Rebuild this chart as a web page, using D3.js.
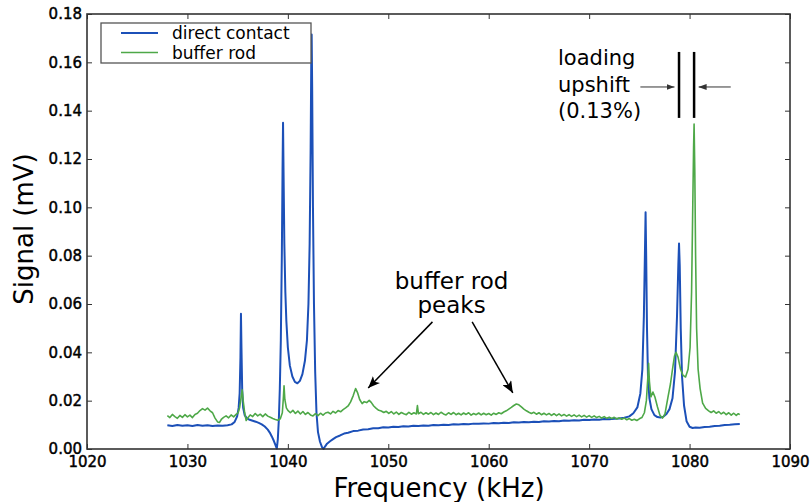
<!DOCTYPE html>
<html>
<head>
<meta charset="utf-8">
<script src="https://cdn.jsdelivr.net/npm/d3@7"></script>
<style>
  body { margin: 0; background: #fff; }
  text { font-family: "DejaVu Sans", sans-serif; fill: #000; }
</style>
</head>
<body>
<div id="chart"></div>
<script>

// tick values
const freqTicks = [1020, 1030, 1040, 1050, 1060, 1070, 1080, 1090];
const signalTicks = [0.00, 0.02, 0.04, 0.06, 0.08, 0.10, 0.12, 0.14, 0.16, 0.18];

// series names
const seriesNames = ["direct contact", "buffer rod"];

// direct contact trace [kHz, mV]
const directContact = [
  [1028.0, 0.0098], [1028.5, 0.0095], [1029.0, 0.0099], [1029.5, 0.0096], [1030.0, 0.0098],
  [1030.5, 0.0095], [1031.0, 0.0099], [1031.5, 0.0096], [1032.0, 0.0098], [1032.5, 0.0095],
  [1033.0, 0.0097], [1033.5, 0.0096], [1034.0, 0.0098], [1034.4, 0.0102], [1034.7, 0.0112],
  [1034.95, 0.0135], [1035.1, 0.0170], [1035.2, 0.0230], [1035.28, 0.0380], [1035.33, 0.0560],
  [1035.38, 0.0420], [1035.45, 0.0250], [1035.55, 0.0170], [1035.7, 0.0140], [1035.9, 0.0128],
  [1036.2, 0.0121], [1036.5, 0.0117], [1036.8, 0.0113], [1037.1, 0.0108], [1037.4, 0.0102],
  [1037.7, 0.0093], [1038.0, 0.0080], [1038.2, 0.0068], [1038.4, 0.0052], [1038.6, 0.0034],
  [1038.75, 0.0018], [1038.9, 0.0002], [1039.0, 0.0040], [1039.1, 0.0120], [1039.2, 0.0250],
  [1039.3, 0.0450], [1039.4, 0.0800], [1039.47, 0.1150], [1039.52, 0.1350], [1039.57, 0.1150],
  [1039.65, 0.0850], [1039.75, 0.0650], [1039.85, 0.0530], [1040.0, 0.0420], [1040.2, 0.0345],
  [1040.45, 0.0300], [1040.7, 0.0278], [1040.95, 0.0272], [1041.2, 0.0282], [1041.45, 0.0310],
  [1041.7, 0.0365], [1041.9, 0.0450], [1042.05, 0.0600], [1042.17, 0.0850], [1042.27, 0.1250],
  [1042.33, 0.1600], [1042.37, 0.1715], [1042.42, 0.1500], [1042.5, 0.1000], [1042.6, 0.0600],
  [1042.72, 0.0320], [1042.85, 0.0150], [1043.0, 0.0070], [1043.2, 0.0030], [1043.4, 0.0008],
  [1043.55, 0.0000], [1043.7, 0.0010], [1043.9, 0.0022], [1044.2, 0.0032], [1044.5, 0.0041],
  [1044.8, 0.0049], [1045.2, 0.0056], [1045.6, 0.0064], [1046.0, 0.0067], [1046.5, 0.0074],
  [1047.0, 0.0076], [1047.5, 0.0081], [1048.0, 0.0082], [1048.5, 0.0086], [1049.0, 0.0086],
  [1049.5, 0.0090], [1050.0, 0.0089], [1050.5, 0.0092], [1051.0, 0.0091], [1051.5, 0.0094],
  [1052.0, 0.0093], [1052.5, 0.0096], [1053.0, 0.0095], [1053.5, 0.0097], [1054.0, 0.0096],
  [1054.5, 0.0099], [1055.0, 0.0098], [1055.5, 0.0100], [1056.0, 0.0099], [1056.5, 0.0102],
  [1057.0, 0.0101], [1057.5, 0.0103], [1058.0, 0.0102], [1058.5, 0.0105], [1059.0, 0.0104],
  [1059.5, 0.0106], [1060.0, 0.0105], [1060.5, 0.0108], [1061.0, 0.0107], [1061.5, 0.0109],
  [1062.0, 0.0108], [1062.5, 0.0111], [1063.0, 0.0110], [1063.5, 0.0112], [1064.0, 0.0111],
  [1064.5, 0.0113], [1065.0, 0.0112], [1065.5, 0.0115], [1066.0, 0.0114], [1066.5, 0.0116],
  [1067.0, 0.0115], [1067.5, 0.0118], [1068.0, 0.0117], [1068.5, 0.0119], [1069.0, 0.0118],
  [1069.5, 0.0121], [1070.0, 0.0120], [1070.5, 0.0122], [1071.0, 0.0121], [1071.5, 0.0124],
  [1072.0, 0.0123], [1072.5, 0.0125], [1073.0, 0.0126], [1073.5, 0.0129], [1074.0, 0.0135],
  [1074.4, 0.0148], [1074.8, 0.0172], [1075.1, 0.0230], [1075.3, 0.0330], [1075.45, 0.0550],
  [1075.55, 0.0800], [1075.62, 0.0980], [1075.68, 0.0800], [1075.76, 0.0500], [1075.86, 0.0300],
  [1076.0, 0.0210], [1076.2, 0.0165], [1076.5, 0.0140], [1076.8, 0.0132], [1077.1, 0.0130],
  [1077.4, 0.0134], [1077.7, 0.0145], [1078.0, 0.0165], [1078.3, 0.0210], [1078.55, 0.0320],
  [1078.75, 0.0550], [1078.88, 0.0760], [1078.95, 0.0850], [1079.02, 0.0760], [1079.12, 0.0500],
  [1079.25, 0.0300], [1079.45, 0.0180], [1079.7, 0.0115], [1080.0, 0.0092], [1080.3, 0.0087],
  [1080.6, 0.0089], [1081.0, 0.0088], [1081.5, 0.0091], [1082.0, 0.0092], [1082.5, 0.0095],
  [1083.0, 0.0096], [1083.5, 0.0099], [1084.0, 0.0100], [1084.5, 0.0102], [1085.0, 0.0103]
];

// buffer rod trace [kHz, mV]
const bufferRod = [
  [1028.0, 0.0138], [1028.25, 0.0130], [1028.5, 0.0143], [1028.75, 0.0134], [1029.0, 0.0127],
  [1029.25, 0.0139], [1029.5, 0.0131], [1029.75, 0.0142], [1030.0, 0.0133], [1030.25, 0.0140],
  [1030.5, 0.0130], [1030.75, 0.0143], [1031.0, 0.0148], [1031.25, 0.0159], [1031.5, 0.0167],
  [1031.75, 0.0161], [1032.0, 0.0169], [1032.25, 0.0158], [1032.5, 0.0150], [1032.75, 0.0128],
  [1033.0, 0.0112], [1033.2, 0.0110], [1033.4, 0.0124], [1033.6, 0.0131], [1033.85, 0.0137],
  [1034.1, 0.0129], [1034.35, 0.0141], [1034.6, 0.0133], [1034.85, 0.0143], [1035.05, 0.0150],
  [1035.2, 0.0172], [1035.35, 0.0215], [1035.45, 0.0245], [1035.55, 0.0200], [1035.7, 0.0150],
  [1035.85, 0.0118], [1036.0, 0.0128], [1036.25, 0.0141], [1036.5, 0.0134], [1036.75, 0.0147],
  [1037.0, 0.0137], [1037.25, 0.0144], [1037.5, 0.0134], [1037.75, 0.0145], [1038.0, 0.0136],
  [1038.25, 0.0131], [1038.5, 0.0126], [1038.75, 0.0122], [1039.0, 0.0119], [1039.25, 0.0125],
  [1039.45, 0.0150], [1039.55, 0.0210], [1039.62, 0.0262], [1039.7, 0.0205], [1039.85, 0.0170],
  [1040.0, 0.0160], [1040.25, 0.0150], [1040.5, 0.0160], [1040.75, 0.0147], [1041.0, 0.0157],
  [1041.25, 0.0145], [1041.5, 0.0155], [1041.75, 0.0143], [1042.0, 0.0151], [1042.25, 0.0141],
  [1042.5, 0.0137], [1042.75, 0.0146], [1043.0, 0.0138], [1043.25, 0.0148], [1043.5, 0.0140],
  [1043.75, 0.0149], [1044.0, 0.0152], [1044.25, 0.0145], [1044.5, 0.0156], [1044.75, 0.0149],
  [1045.0, 0.0159], [1045.25, 0.0154], [1045.5, 0.0163], [1045.75, 0.0170], [1046.0, 0.0178],
  [1046.25, 0.0195], [1046.5, 0.0220], [1046.75, 0.0250], [1046.95, 0.0232], [1047.15, 0.0205],
  [1047.4, 0.0188], [1047.6, 0.0196], [1047.85, 0.0192], [1048.1, 0.0201], [1048.3, 0.0193],
  [1048.55, 0.0178], [1048.8, 0.0168], [1049.05, 0.0160], [1049.3, 0.0157], [1049.55, 0.0151],
  [1049.8, 0.0156], [1050.05, 0.0147], [1050.3, 0.0155], [1050.55, 0.0145], [1050.8, 0.0153],
  [1051.05, 0.0143], [1051.3, 0.0151], [1051.55, 0.0146], [1051.8, 0.0142], [1052.05, 0.0152],
  [1052.3, 0.0144], [1052.55, 0.0150], [1052.8, 0.0145], [1052.9, 0.0180], [1053.0, 0.0146],
  [1053.25, 0.0152], [1053.5, 0.0143], [1053.75, 0.0150], [1054.0, 0.0144], [1054.25, 0.0151],
  [1054.5, 0.0142], [1054.75, 0.0149], [1055.0, 0.0143], [1055.25, 0.0152], [1055.5, 0.0145],
  [1055.75, 0.0141], [1056.0, 0.0150], [1056.25, 0.0143], [1056.5, 0.0151], [1056.75, 0.0142],
  [1057.0, 0.0148], [1057.25, 0.0141], [1057.5, 0.0149], [1057.75, 0.0143], [1058.0, 0.0150],
  [1058.25, 0.0140], [1058.5, 0.0147], [1058.75, 0.0142], [1059.0, 0.0149], [1059.25, 0.0141],
  [1059.5, 0.0148], [1059.75, 0.0142], [1060.0, 0.0147], [1060.25, 0.0140], [1060.5, 0.0148],
  [1060.75, 0.0143], [1061.0, 0.0150], [1061.25, 0.0146], [1061.5, 0.0153], [1061.75, 0.0158],
  [1062.0, 0.0165], [1062.25, 0.0172], [1062.5, 0.0180], [1062.75, 0.0186], [1063.0, 0.0183],
  [1063.25, 0.0174], [1063.5, 0.0165], [1063.75, 0.0158], [1064.0, 0.0152], [1064.25, 0.0147],
  [1064.5, 0.0152], [1064.75, 0.0144], [1065.0, 0.0150], [1065.25, 0.0142], [1065.5, 0.0148],
  [1065.75, 0.0141], [1066.0, 0.0147], [1066.25, 0.0139], [1066.5, 0.0146], [1066.75, 0.0138],
  [1067.0, 0.0145], [1067.25, 0.0137], [1067.5, 0.0143], [1067.75, 0.0136], [1068.0, 0.0142],
  [1068.25, 0.0135], [1068.5, 0.0141], [1068.75, 0.0134], [1069.0, 0.0140], [1069.25, 0.0133],
  [1069.5, 0.0139], [1069.75, 0.0132], [1070.0, 0.0138], [1070.25, 0.0131], [1070.5, 0.0137],
  [1070.75, 0.0130], [1071.0, 0.0135], [1071.25, 0.0128], [1071.5, 0.0134], [1071.75, 0.0127],
  [1072.0, 0.0132], [1072.25, 0.0126], [1072.5, 0.0131], [1072.75, 0.0124], [1073.0, 0.0129],
  [1073.25, 0.0123], [1073.5, 0.0128], [1073.75, 0.0121], [1074.0, 0.0126], [1074.25, 0.0119],
  [1074.5, 0.0123], [1074.75, 0.0118], [1075.0, 0.0125], [1075.25, 0.0130], [1075.5, 0.0150],
  [1075.7, 0.0200], [1075.85, 0.0300], [1075.92, 0.0355], [1076.0, 0.0280], [1076.15, 0.0215],
  [1076.35, 0.0236], [1076.55, 0.0215], [1076.8, 0.0175], [1077.05, 0.0140], [1077.3, 0.0128],
  [1077.55, 0.0145], [1077.85, 0.0215], [1078.1, 0.0270], [1078.3, 0.0330], [1078.5, 0.0385],
  [1078.65, 0.0400], [1078.85, 0.0380], [1079.1, 0.0330], [1079.35, 0.0305], [1079.6, 0.0298],
  [1079.85, 0.0330], [1080.05, 0.0420], [1080.2, 0.0650], [1080.3, 0.0950], [1080.4, 0.1250],
  [1080.45, 0.1345], [1080.52, 0.1150], [1080.6, 0.0800], [1080.7, 0.0500], [1080.85, 0.0330],
  [1081.05, 0.0250], [1081.3, 0.0190], [1081.6, 0.0168], [1081.9, 0.0158], [1082.15, 0.0151],
  [1082.4, 0.0158], [1082.65, 0.0148], [1082.9, 0.0155], [1083.15, 0.0145], [1083.4, 0.0152],
  [1083.65, 0.0142], [1083.9, 0.0150], [1084.15, 0.0140], [1084.4, 0.0148], [1084.65, 0.0139],
  [1084.85, 0.0146], [1085.0, 0.0142]
];

// annotation anchors in data units
const peakArrowTips = [[1048.0, 0.0252], [1062.4, 0.0232]];
const peakArrowTails = [[1054.4, 0.0526], [1058.35, 0.0526]];
const shiftPeaks = [1078.95, 1080.45];

const svgWidth = 811, svgHeight = 502;
const margin = {top: 14, right: 21, bottom: 53, left: 87};
const width = svgWidth - margin.left - margin.right;
const height = svgHeight - margin.top - margin.bottom;

const svg = d3.select("#chart").append("svg")
  .attr("width", svgWidth)
  .attr("height", svgHeight);

const defs = svg.append("defs");
defs.append("marker")
  .attr("id", "headBig")
  .attr("viewBox", "0 0 12 10")
  .attr("refX", 12).attr("refY", 5)
  .attr("markerWidth", 12).attr("markerHeight", 10)
  .attr("markerUnits", "userSpaceOnUse")
  .attr("orient", "auto")
  .append("path").attr("d", "M0,0 L12,5 L0,10 L3,5 Z").attr("fill", "#000");
defs.append("marker")
  .attr("id", "headSmall")
  .attr("viewBox", "0 0 8 6")
  .attr("refX", 8).attr("refY", 3)
  .attr("markerWidth", 8).attr("markerHeight", 6)
  .attr("markerUnits", "userSpaceOnUse")
  .attr("orient", "auto")
  .append("path").attr("d", "M0,0 L8,3 L0,6 Z").attr("fill", "#333");

const g = svg.append("g").attr("transform", `translate(${margin.left},${margin.top})`);

const x = d3.scaleLinear().domain([1020, 1090]).range([0, width]);
const y = d3.scaleLinear().domain([0, 0.18]).range([height, 0]);

// data lines
const line = d3.line().x(d => x(d[0])).y(d => y(d[1]));

g.append("path").datum(directContact)
  .attr("fill", "none").attr("stroke", "#1c50b8").attr("stroke-width", 2)
  .attr("stroke-linejoin", "round")
  .attr("d", line);

g.append("path").datum(bufferRod)
  .attr("fill", "none").attr("stroke", "#4ea848").attr("stroke-width", 1.6)
  .attr("stroke-linejoin", "round")
  .attr("d", line);

// axes, ticks pointing inward like the original
const tickFont = g => g.selectAll("text")
  .style("font-family", "DejaVu Sans").style("font-size", "15px")
  .attr("fill", "#000").attr("stroke", "#000").attr("stroke-width", 0.45);

g.append("g").attr("transform", `translate(0,${height})`)
  .call(d3.axisBottom(x).tickValues(freqTicks).tickSize(-5).tickPadding(7).tickFormat(d3.format("d")))
  .call(tickFont)
  .call(a => a.select(".domain").remove());

g.append("g")
  .call(d3.axisLeft(y).tickValues(signalTicks).tickSize(-5).tickPadding(5).tickFormat(d3.format(".2f")))
  .call(tickFont)
  .call(a => a.select(".domain").remove());

g.append("g")
  .call(d3.axisTop(x).tickValues(freqTicks).tickSize(-5).tickFormat(""))
  .call(a => a.select(".domain").remove());

g.append("g").attr("transform", `translate(${width},0)`)
  .call(d3.axisRight(y).tickValues(signalTicks).tickSize(-5).tickFormat(""))
  .call(a => a.select(".domain").remove());

g.selectAll(".tick line").attr("stroke", "#333");

// frame
g.append("rect")
  .attr("width", width).attr("height", height)
  .attr("fill", "none").attr("stroke", "#333").attr("stroke-width", 1.6);

// axis labels
svg.append("text")
  .attr("x", 439).attr("y", 497)
  .attr("text-anchor", "middle")
  .style("font-size", "26px")
  .text("Frequency (kHz)");

svg.append("text")
  .attr("transform", `translate(33,${margin.top + 215}) rotate(-90)`)
  .attr("text-anchor", "middle")
  .style("font-size", "26px")
  .text("Signal (mV)");

// legend
const legend = svg.append("g").attr("transform", "translate(101,23)");
legend.append("rect")
  .attr("width", 210).attr("height", 40)
  .attr("fill", "#fff").attr("stroke", "#555").attr("stroke-width", 1.3);
const legendColors = ["#1c50b8", "#4ea848"];
seriesNames.forEach((name, i) => {
  const row = legend.append("g").attr("transform", `translate(0,${10 + i * 19.5})`);
  row.append("line")
    .attr("x1", 20).attr("x2", 57)
    .attr("stroke", legendColors[i]).attr("stroke-width", i === 0 ? 2 : 1.6);
  row.append("text")
    .attr("x", 71).attr("y", 6)
    .style("font-size", "17px")
    .text(name);
});

// "buffer rod peaks" annotation
const notes = g.append("g");
notes.append("text")
  .attr("x", x(1056.3)).attr("y", y(0.0662))
  .attr("text-anchor", "middle").style("font-size", "23px")
  .text("buffer rod");
notes.append("text")
  .attr("x", x(1056.3)).attr("y", y(0.0562))
  .attr("text-anchor", "middle").style("font-size", "23px")
  .text("peaks");
peakArrowTips.forEach((tip, i) => {
  const tail = peakArrowTails[i];
  notes.append("line")
    .attr("x1", x(tail[0])).attr("y1", y(tail[1]))
    .attr("x2", x(tip[0])).attr("y2", y(tip[1]))
    .attr("stroke", "#000").attr("stroke-width", 1.5)
    .attr("marker-end", "url(#headBig)");
});

// loading upshift annotation
const shift = g.append("g");
["loading", "upshift", "(0.13%)"].forEach((t, i) => {
  shift.append("text")
    .attr("x", x(1066.9)).attr("y", y(0.1589 - i * 0.0110))
    .style("font-size", "21px")
    .text(t);
});
shiftPeaks.forEach(f => {
  shift.append("line")
    .attr("x1", x(f)).attr("x2", x(f))
    .attr("y1", y(0.1643)).attr("y2", y(0.1370))
    .attr("stroke", "#000").attr("stroke-width", 2.5);
});
shift.append("line")
  .attr("x1", x(1075.1)).attr("x2", x(1078.5))
  .attr("y1", y(0.1498)).attr("y2", y(0.1498))
  .attr("stroke", "#333").attr("stroke-width", 1)
  .attr("marker-end", "url(#headSmall)");
shift.append("line")
  .attr("x1", x(1084.1)).attr("x2", x(1080.9))
  .attr("y1", y(0.1498)).attr("y2", y(0.1498))
  .attr("stroke", "#333").attr("stroke-width", 1)
  .attr("marker-end", "url(#headSmall)");

</script>
</body>
</html>
